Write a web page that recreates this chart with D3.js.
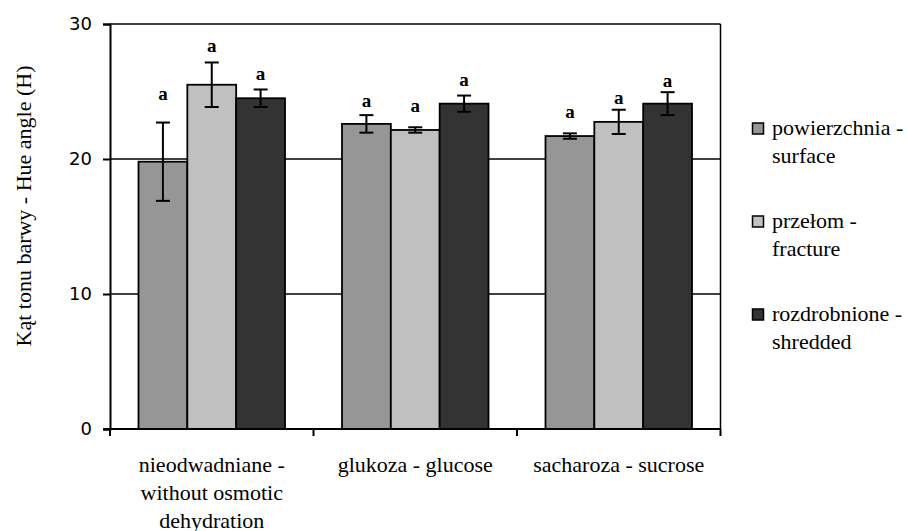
<!DOCTYPE html>
<html>
<head>
<meta charset="utf-8">
<script src="https://cdn.jsdelivr.net/npm/d3@7"></script>
<style>
  body { margin: 0; background: #fff; }
  svg { display: block; }
  .serif { font-family: "Liberation Serif", "DejaVu Serif", serif; }
</style>
</head>
<body>
<div id="chart"></div>
<script>
// categories (two-language labels, split into lines)
const categories = ['nieodwadniane', 'glukoza', 'sacharoza'];
const categoryLines = [
  ['nieodwadniane -', 'without osmotic', 'dehydration'],
  ['glukoza - glucose'],
  ['sacharoza - sucrose']
];
const seriesKeys = ['surface', 'fracture', 'shredded'];
const seriesLines = [
  ['powierzchnia -', 'surface'],
  ['przełom -', 'fracture'],
  ['rozdrobnione -', 'shredded']
];
const seriesColors = ['#969696', '#c0c0c0', '#333333'];

// mean values, one array per series (order follows categories)
const surface = [19.8, 22.6, 21.7];
const fracture = [25.5, 22.15, 22.75];
const shredded = [24.5, 24.1, 24.1];
// error bar half-widths
const surfaceErr = [2.9, 0.65, 0.2];
const fractureErr = [1.65, 0.2, 0.9];
const shreddedErr = [0.65, 0.6, 0.85];
// heights where the "a" letters sit
const surfaceLabel = [24.8, 24.3, 23.5];
const fractureLabel = [28.4, 23.9, 24.5];
const shreddedLabel = [26.3, 25.85, 25.8];
const yTicks = [0, 10, 20, 30];

const w = 908, h = 531;
const plotLeft = 110, plotRight = 720.5, plotTop = 24, plotBottom = 429;

const values = [surface, fracture, shredded];
const errs = [surfaceErr, fractureErr, shreddedErr];
const labels = [surfaceLabel, fractureLabel, shreddedLabel];

// flatten into one row per bar
const rows = [];
categories.forEach((c, ci) => {
  seriesKeys.forEach((s, si) => {
    rows.push({cat: c, key: s, si: si, v: values[si][ci], e: errs[si][ci], a: labels[si][ci]});
  });
});

const svg = d3.select('#chart').append('svg')
  .attr('width', w).attr('height', h);

const x0 = d3.scaleBand().domain(categories).range([plotLeft, plotRight])
  .paddingInner(0.28).paddingOuter(0.14);
const x1 = d3.scaleBand().domain(seriesKeys).range([0, x0.bandwidth()]);
const y = d3.scaleLinear().domain([0, 30]).range([plotBottom, plotTop]);

// gridlines
svg.append('g').selectAll('line').data(yTicks.filter(d => d > 0)).enter().append('line')
  .attr('x1', plotLeft).attr('x2', plotRight)
  .attr('y1', d => y(d)).attr('y2', d => y(d))
  .attr('stroke', '#000').attr('stroke-width', 1.5);

// right border of plot area
svg.append('line')
  .attr('x1', plotRight).attr('x2', plotRight).attr('y1', y(30)).attr('y2', y(0))
  .attr('stroke', '#000').attr('stroke-width', 1.5);

// bars
svg.append('g').selectAll('rect').data(rows).enter().append('rect')
  .attr('x', d => x0(d.cat) + x1(d.key))
  .attr('y', d => y(d.v))
  .attr('width', x1.bandwidth())
  .attr('height', d => y(0) - y(d.v))
  .attr('fill', d => seriesColors[d.si])
  .attr('stroke', '#000').attr('stroke-width', 1.8);

// error bars
const eb = svg.append('g').attr('stroke', '#000').attr('stroke-width', 2);
rows.forEach(d => {
  const cx = x0(d.cat) + x1(d.key) + x1.bandwidth() / 2;
  eb.append('line').attr('x1', cx).attr('x2', cx)
    .attr('y1', y(d.v - d.e)).attr('y2', y(d.v + d.e));
  [d.v - d.e, d.v + d.e].forEach(v => {
    eb.append('line').attr('x1', cx - 7).attr('x2', cx + 7)
      .attr('y1', y(v)).attr('y2', y(v));
  });
});

// "a" letters
svg.append('g').selectAll('text').data(rows).enter().append('text')
  .attr('class', 'serif')
  .attr('x', d => x0(d.cat) + x1(d.key) + x1.bandwidth() / 2)
  .attr('y', d => y(d.a) + 6)
  .attr('text-anchor', 'middle')
  .style('font-size', '19px').style('font-weight', 'bold')
  .text('a');

// y axis
const yAxis = d3.axisLeft(y).tickValues(yTicks).tickSize(7).tickPadding(11);
const gy = svg.append('g').attr('transform', 'translate(' + plotLeft + ',0)').call(yAxis);
gy.select('.domain').attr('stroke-width', 2);
gy.selectAll('.tick line').attr('stroke-width', 2);
gy.selectAll('.tick text')
  .style('font-family', '"DejaVu Sans", sans-serif').style('font-size', '18px').attr('fill', '#000');

// x axis: ticks at category boundaries
const gx = svg.append('g');
gx.append('line').attr('x1', plotLeft - 7).attr('x2', plotRight)
  .attr('y1', plotBottom).attr('y2', plotBottom)
  .attr('stroke', '#000').attr('stroke-width', 2);
const bounds = categories.map(c => x0(c) - x0.step() * x0.paddingInner() / 2).concat([plotRight]);
gx.selectAll('.xt').data(bounds).enter().append('line')
  .attr('x1', d => d).attr('x2', d => d)
  .attr('y1', plotBottom).attr('y2', plotBottom + 7)
  .attr('stroke', '#000').attr('stroke-width', 2);

const catText = svg.append('g').selectAll('text').data(categories).enter().append('text')
  .attr('class', 'serif')
  .attr('x', d => x0(d) + x0.bandwidth() / 2)
  .attr('y', 472)
  .attr('text-anchor', 'middle')
  .style('font-size', '22px');
catText.selectAll('tspan').data((d, i) => categoryLines[i]).enter().append('tspan')
  .attr('x', function() { return d3.select(this.parentNode).attr('x'); })
  .attr('dy', (d, i) => i === 0 ? 0 : 28)
  .text(d => d);

// y title
svg.append('text')
  .attr('class', 'serif')
  .attr('transform', 'translate(31,206) rotate(-90)')
  .attr('text-anchor', 'middle')
  .style('font-size', '22px')
  .text('Kąt tonu barwy - Hue angle (H)');

// legend
const lg = svg.append('g').selectAll('g').data(seriesKeys).enter().append('g')
  .attr('transform', (d, i) => 'translate(752,' + (135 + i * 93) + ')');
lg.append('rect')
  .attr('x', 0.5).attr('y', -12).attr('width', 11).attr('height', 11)
  .attr('fill', (d, i) => seriesColors[i])
  .attr('stroke', '#000').attr('stroke-width', 1.5);
const lt = lg.append('text')
  .attr('class', 'serif')
  .attr('x', 20).attr('y', 0)
  .style('font-size', '22px');
lt.selectAll('tspan').data((d, i) => seriesLines[i]).enter().append('tspan')
  .attr('x', 20)
  .attr('dy', (d, i) => i === 0 ? 0 : 28)
  .text(d => d);
</script>
</body>
</html>
